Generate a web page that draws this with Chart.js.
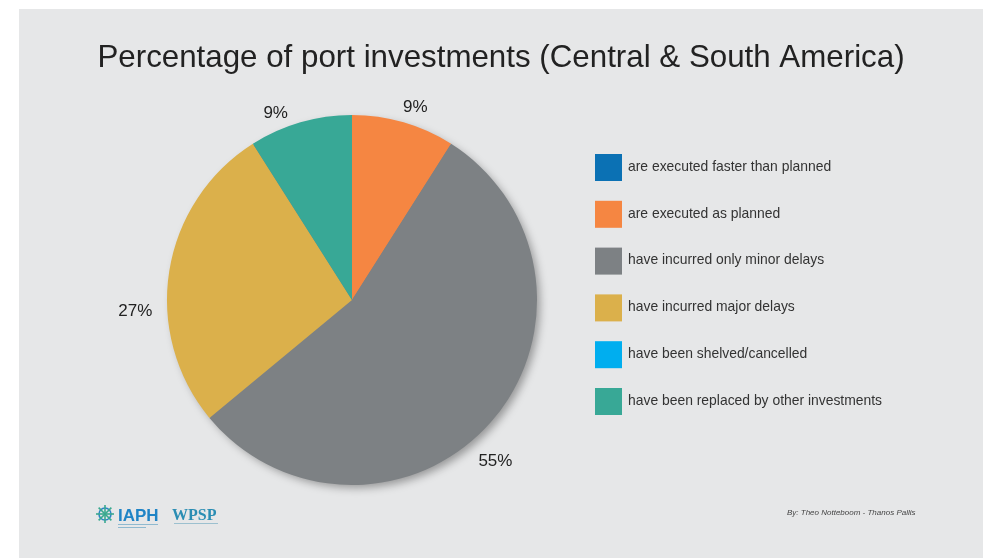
<!DOCTYPE html>
<html>
<head>
<meta charset="utf-8">
<script src="https://cdn.jsdelivr.net/npm/chart.js@4.4.0/dist/chart.umd.min.js"></script>
<style>
  html, body { margin: 0; padding: 0; background: #ffffff; }
  #wrap { position: relative; width: 989px; height: 558px; }
</style>
</head>
<body>
<div id="wrap"><canvas id="myChart" width="989" height="558"></canvas></div>
<script>
// dữ liệu biểu đồ
var categories = [
    'are executed faster than planned',
    'are executed as planned',
    'have incurred only minor delays',
    'have incurred major delays',
    'have been shelved/cancelled',
    'have been replaced by other investments'
];
var shares = [0, 9, 55, 27, 0, 9];
var sliceColors = ['#0b71b4', '#f58642', '#7d8184', '#dbb04b', '#00aeef', '#38a896'];
var chartTitle = 'Percentage of port investments (Central & South America)';
var footerText = 'By: Theo Notteboom - Thanos Pallis';

// nền xám của khung + tiêu đề
var panelPlugin = {
    id: 'panel',
    beforeDraw: function(chart) {
        var c = chart.ctx;
        c.save();
        c.fillStyle = '#ffffff';
        c.fillRect(0, 0, chart.width, chart.height);
        c.fillStyle = '#e6e7e8';
        c.fillRect(19, 9, 964, chart.height - 9);
        // tiêu đề (vẽ tay vì plugin title bị bó theo padding)
        c.fillStyle = '#222222';
        c.font = '31.3px "Liberation Sans", Arial, sans-serif';
        c.textAlign = 'center';
        c.textBaseline = 'middle';
        c.fillText(chartTitle, 501, 58);
        c.restore();
    }
};

// bóng đổ dưới hình tròn
var shadowPlugin = {
    id: 'pieShadow',
    beforeDatasetsDraw: function(chart) {
        var arc = chart.getDatasetMeta(0).data.find(function(a) { return a.circumference > 0; });
        if (!arc) return;
        var c = chart.ctx;
        c.save();
        c.shadowColor = 'rgba(0,0,0,0.35)';
        c.shadowBlur = 9;
        c.shadowOffsetX = 4;
        c.shadowOffsetY = 4;
        c.fillStyle = '#7d8184';
        c.beginPath();
        c.arc(arc.x, arc.y, arc.outerRadius - 1, 0, Math.PI * 2);
        c.fill();
        c.restore();
    }
};

// nhãn phần trăm bên ngoài lát bánh
var labelPlugin = {
    id: 'outLabels',
    afterDatasetsDraw: function(chart, args, opts) {
        var c = chart.ctx;
        var meta = chart.getDatasetMeta(0);
        c.save();
        c.font = '17px "Liberation Sans", Arial, sans-serif';
        c.fillStyle = '#222222';
        c.textAlign = 'center';
        c.textBaseline = 'middle';
        meta.data.forEach(function(arc, i) {
            var v = chart.data.datasets[0].data[i];
            if (!v) return;
            var mid = (arc.startAngle + arc.endAngle) / 2 + (opts.angleShift[i] || 0) * Math.PI / 180;
            var r = arc.outerRadius + (opts.gap[i] || 20);
            c.fillText(v + '%', arc.x + Math.cos(mid) * r, arc.y + Math.sin(mid) * r);
        });
        c.restore();
    }
};

// chú thích bên phải
var legendPlugin = {
    id: 'sideLegend',
    afterDraw: function(chart) {
        var c = chart.ctx;
        var area = chart.chartArea;
        var x = area.right + 58;
        var top = 154;
        var step = 46.8;
        c.save();
        c.font = '13.9px "Liberation Sans", Arial, sans-serif';
        c.textBaseline = 'middle';
        chart.data.labels.forEach(function(lbl, i) {
            var y = top + i * step;
            c.fillStyle = chart.data.datasets[0].backgroundColor[i];
            c.fillRect(x, y, 27, 27);
            c.fillStyle = '#333333';
            c.fillText(lbl, x + 33, y + 13);
        });
        c.restore();
    }
};

// logo và tác giả ở chân trang
var footerPlugin = {
    id: 'footerMarks',
    afterDraw: function(chart) {
        var c = chart.ctx;
        c.save();
        // bánh lái
        var cx = 105, cy = 514;
        c.strokeStyle = '#2b86c5';
        c.lineWidth = 1.6;
        c.beginPath();
        c.arc(cx, cy, 6, 0, Math.PI * 2);
        c.stroke();
        c.strokeStyle = '#3aa98f';
        for (var k = 0; k < 8; k++) {
            var a = k * Math.PI / 4;
            c.beginPath();
            c.moveTo(cx, cy);
            c.lineTo(cx + Math.cos(a) * 9, cy + Math.sin(a) * 9);
            c.stroke();
        }
        c.fillStyle = '#1f84c6';
        c.font = 'bold 17px "Liberation Sans", Arial, sans-serif';
        c.textBaseline = 'alphabetic';
        c.fillText('IAPH', 118, 521);
        c.fillStyle = '#8fb9cf';
        c.fillRect(118, 524, 40, 1);
        c.fillRect(118, 527, 28, 1);
        c.fillStyle = '#2a8db3';
        c.font = 'bold 16px "Liberation Serif", serif';
        c.fillText('WPSP', 172, 520);
        c.fillStyle = '#9cc0cf';
        c.fillRect(174, 523, 44, 1);
        c.fillStyle = '#444444';
        c.font = 'italic 8px "Liberation Sans", Arial, sans-serif';
        c.fillText(footerText, 787, 515);
        c.restore();
    }
};

var ctx = document.getElementById('myChart').getContext('2d');
var chart = new Chart(ctx, {
    type: 'pie',
    data: {
        labels: categories,
        datasets: [{
            data: shares,
            backgroundColor: sliceColors,
            borderWidth: 0
        }]
    },
    options: {
        responsive: false,
        animation: false,
        layout: {
            padding: { left: 167, right: 452, top: 115, bottom: 73 }
        },
        plugins: {
            legend: { display: false },
            tooltip: { enabled: false },
            title: { display: false },
            outLabels: {
                angleShift: [0, 2, 7, -12, 0, -6],
                gap: [20, 18, 31, 32, 20, 17]
            }
        }
    },
    plugins: [panelPlugin, shadowPlugin, labelPlugin, legendPlugin, footerPlugin]
});
</script>
</body>
</html>
